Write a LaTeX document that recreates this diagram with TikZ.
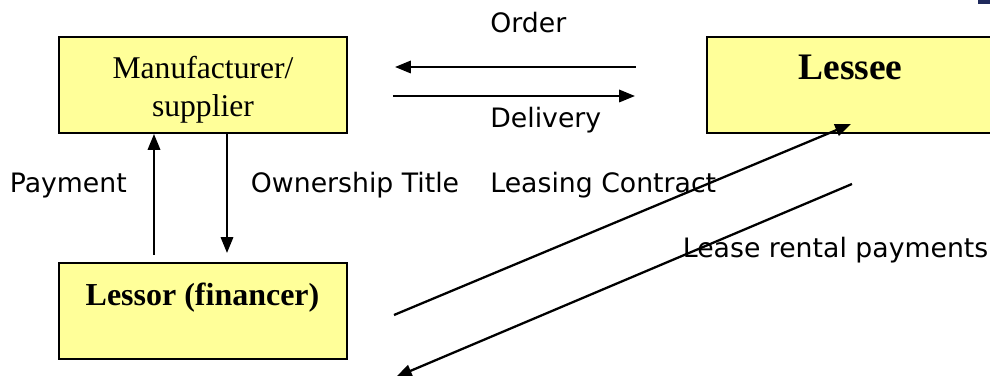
\documentclass[tikz,border=0pt]{standalone}
\usepackage{fontspec}
\setmainfont{Liberation Serif}
\newfontfamily\labelsans{DejaVu Sans}
\usetikzlibrary{arrows.meta}
\definecolor{boxyellow}{HTML}{FFFF99}
\definecolor{logonavy}{HTML}{1F2A5C}

\begin{document}
\begin{tikzpicture}[scale=0.2]
\tikzstyle{every node}+=[inner sep=0pt]
\tikzstyle{party}=[draw=black, line width=1.1pt, fill=boxyellow, minimum width=5.76cm, minimum height=1.92cm]
\tikzstyle{partytext}=[font=\fontsize{18}{21.6}\selectfont, align=center]
\tikzstyle{flowtext}=[font=\labelsans\fontsize{15.2}{17.5}\selectfont, anchor=base west]
\tikzstyle{flow}=[black, line width=1.3pt, -{Triangle[length=9pt,width=7pt]}]
\useasboundingbox (0,0) rectangle (99,-37.6);
\fill [logonavy] (97.8,0) rectangle (99,-0.4);
\node [party] (manufacturer) at (20.3,-8.5) {};
\node [party] (lessee) at (85.1,-8.5) {};
\node [party] (lessor) at (20.3,-31.1) {};
\node [partytext, anchor=north] (manufacturer-text) at (20.3,-5.55) {Manufacturer/\\supplier};
\node [partytext, font=\bfseries\fontsize{21.3}{25}\selectfont, anchor=base] (lessee-text) at (85.05,-8.0) {Lessee};
\node [partytext, font=\bfseries\fontsize{18.2}{22}\selectfont, anchor=base] (lessor-text) at (20.25,-30.5) {Lessor (financer)};
\coordinate (order-from) at (63.6,-6.7);
\coordinate (order-to) at (39.5,-6.7);
\coordinate (delivery-from) at (39.3,-9.6);
\coordinate (delivery-to) at (63.5,-9.6);
\coordinate (payment-from) at (15.4,-25.5);
\coordinate (title-to) at (22.7,-25.3);
\coordinate (contract-from) at (39.4,-31.5);
\coordinate (contract-to) at (85.1,-12.4);
\coordinate (rental-from) at (85.2,-18.4);
\coordinate (rental-to) at (39.6,-37.7);
\draw [flow] (order-from) -- (order-to);
\draw [flow] (delivery-from) -- (delivery-to);
\draw [flow] (payment-from) -- (payment-from |- manufacturer.south);
\draw [flow] (title-to |- manufacturer.south) -- (title-to);
\draw [flow] (contract-from) -- (contract-to);
\draw [flow] (rental-from) -- (rental-to);
\node [flowtext] (order) at (49.0,-3.3) {Order};
\node [flowtext] (delivery) at (49.0,-12.8) {Delivery};
\node [flowtext] (payment) at (0.95,-19.3) {Payment};
\node [flowtext] (title) at (25.06,-19.3) {Ownership Title};
\node [flowtext] (contract) at (49.0,-19.3) {Leasing Contract};
\node [flowtext] (rental) at (68.25,-25.8) {Lease rental payments};
\end{tikzpicture}
\end{document}
